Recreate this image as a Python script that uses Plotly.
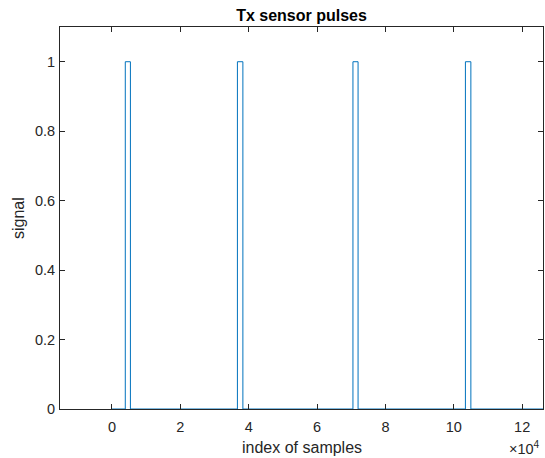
import plotly.graph_objects as go

# Pulse edges (sample index) of the Tx sensor signal
pulse_starts = [3900, 36700, 70500, 103400]
pulse_ends = [5400, 38300, 72000, 105000]
pulse_level = 1
signal_first = 0
signal_last = 126100

x_ticks = [0, 20000, 40000, 60000, 80000, 100000, 120000]
x_tick_labels = ["0", "2", "4", "6", "8", "10", "12"]
y_ticks = [0, 0.2, 0.4, 0.6, 0.8, 1]
y_tick_labels = ["0", "0.2", "0.4", "0.6", "0.8", "1"]

# Build the rectangular pulse train as a step polyline
xs = [signal_first]
ys = [0]
for s, e in zip(pulse_starts, pulse_ends):
    xs += [s, s, e, e]
    ys += [0, pulse_level, pulse_level, 0]
xs.append(signal_last)
ys.append(0)

FONT = "Liberation Sans, Arial, Helvetica, sans-serif"
AX = "#262626"

fig = go.Figure()
fig.add_trace(go.Scatter(x=xs, y=ys, mode="lines",
                         line=dict(color="#0072BD", width=1),
                         showlegend=False, hoverinfo="skip"))

axis_common = dict(showline=True, linecolor=AX, linewidth=0.8, mirror="ticks",
                   ticks="inside", ticklen=5, tickwidth=0.8, tickcolor=AX,
                   showgrid=False, zeroline=False,
                   tickfont=dict(family=FONT, size=14.5, color=AX))

fig.update_layout(
    width=545, height=458,
    margin=dict(l=60, r=1.5, t=27.3, b=49.3),
    paper_bgcolor="white", plot_bgcolor="white",
    font=dict(family=FONT, color=AX),
    title=dict(text="<b>Tx sensor pulses</b>", x=0.5, xref="paper",
               y=1 - 15.6 / 458, yref="container", yanchor="middle",
               xanchor="center", font=dict(family=FONT, size=16, color="#000000")),
    xaxis=dict(range=[-15200, 126100], tickvals=x_ticks, ticktext=x_tick_labels,
               ticklabelstandoff=5, **axis_common),
    yaxis=dict(range=[0, 1.1], tickvals=y_ticks, ticktext=y_tick_labels,
               ticklabelstandoff=1, **axis_common),
    annotations=[
        dict(text="index of samples", xref="paper", yref="paper", x=0.5, y=0,
             xanchor="center", yanchor="middle", yshift=-38, showarrow=False,
             font=dict(family=FONT, size=16, color=AX)),
        dict(text="signal", xref="paper", yref="paper", x=0, y=0.5,
             xanchor="center", yanchor="middle", xshift=-42, textangle=-90,
             showarrow=False, font=dict(family=FONT, size=16, color=AX)),
        dict(text="×10<sup>4</sup>", xref="paper", yref="paper", x=1, y=0,
             xanchor="right", yanchor="middle", yshift=-39, xshift=-2,
             borderpad=0, showarrow=False,
             font=dict(family=FONT, size=14.5, color=AX)),
    ],
)

fig.write_html("out.html")
